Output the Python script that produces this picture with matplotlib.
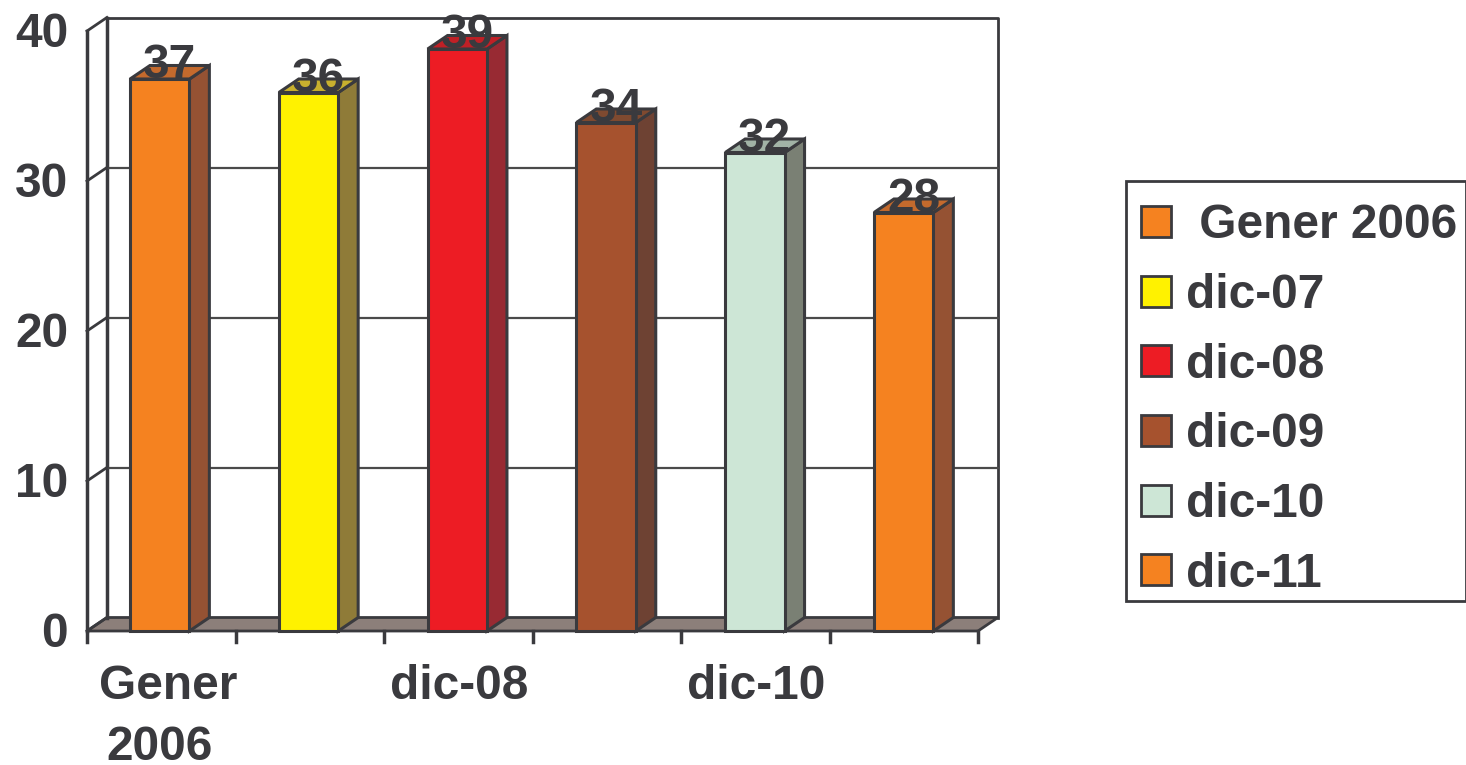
import matplotlib
matplotlib.use("Agg")
import matplotlib.pyplot as plt
from matplotlib.patches import Patch, Polygon, Rectangle

categories = ["Gener 2006", "dic-07", "dic-08", "dic-09", "dic-10", "dic-11"]
values = [36.8, 35.9, 38.8, 33.9, 31.9, 27.9]
value_labels = ["37", "36", "39", "34", "32", "28"]
yticks = [0, 10, 20, 30, 40]

front = ["#f58220", "#fff200", "#ed1c24", "#a6522e", "#cde6d6", "#f58220"]
side = ["#955233", "#8f7b38", "#982a33", "#6e4233", "#7a8074", "#955233"]
top = ["#c46a2d", "#c8b02e", "#c02026", "#7f4a30", "#a2b3a6", "#c46a2d"]

dark = "#3a3a3e"
plt.rcParams["font.family"] = ["Liberation Sans", "DejaVu Sans"]
plt.rcParams["font.weight"] = "bold"
plt.rcParams["font.size"] = 34.5

W, H = 1466, 765
fig = plt.figure(figsize=(W / 100, H / 100), dpi=100)
ax = fig.add_axes([87 / W, 1 - 631 / H, 891 / W, 600 / H])
ax.set_xlim(0, 6)
ax.set_ylim(0, 40)
ax.axis("off")

# depth of the fake 3d, in data units (about 20px right, 14px up)
dx = 0.134
dy = 0.9
wall_top = 40

# floor, walls, gridlines
ax.add_patch(Polygon([(0, 0), (6, 0), (6 + dx, dy), (dx, dy)], fc="#8c7f7a", ec=dark, lw=2, zorder=1, clip_on=False))
ax.plot([dx, 6 + dx, 6 + dx], [wall_top + dy, wall_top + dy, dy], color=dark, lw=2, clip_on=False, zorder=1)
ax.plot([dx, dx], [dy, wall_top + dy], color=dark, lw=2.5, clip_on=False, zorder=1)
ax.plot([0, 0], [0, wall_top], color=dark, lw=2.5, clip_on=False, zorder=1)
for t in yticks:
    if t > 0 and t < 40:
        ax.plot([dx, 6 + dx], [t + dy, t + dy], color="#4a4a4a", lw=1.6, clip_on=False, zorder=1)
    ax.plot([0, dx], [t, t + dy], color=dark, lw=2, clip_on=False, zorder=1)
    ax.text(-0.127, t - 0.22, str(t), ha="right", va="center", color=dark)

# x ticks below the floor
for i in range(7):
    ax.plot([i, i], [0, -0.7], color=dark, lw=2.5, clip_on=False, zorder=1)

# bars
width = 0.4
for i, v in enumerate(values):
    x0 = i * 1.002 + 0.49 - width / 2
    x1 = x0 + width
    ax.bar(x0, v, width=width, align="edge", color=front[i], edgecolor=dark, linewidth=2.2, zorder=3, clip_on=False)
    ax.add_patch(Polygon([(x1, 0), (x1 + dx, dy), (x1 + dx, v + dy), (x1, v)], fc=side[i], ec=dark, lw=2.2, zorder=2, clip_on=False))
    ax.add_patch(Polygon([(x0, v), (x1, v), (x1 + dx, v + dy), (x0 + dx, v + dy)], fc=top[i], ec=dark, lw=2.2, zorder=2, clip_on=False))
    ax.text((x0 + x1 + dx) / 2, v + 0.87, value_labels[i], ha="center", va="center", color=dark, zorder=5, clip_on=False)

# only every other category gets a label
ax.text(0.545, -3.7, "Gener", ha="center", va="center", color=dark)
ax.text(0.49, -7.75, "2006", ha="center", va="center", color=dark)
ax.text(2.507, -3.7, categories[2], ha="center", va="center", color=dark)
ax.text(4.507, -3.7, categories[4], ha="center", va="center", color=dark)

# legend frame is separate so the rows can sit off centre like the original
fig.add_artist(Rectangle((1126 / W, 1 - 601 / H), 340 / W, 420 / H, transform=fig.transFigure,
                         fc="white", ec=dark, lw=2))
handles = [Patch(facecolor=front[i], edgecolor=dark, linewidth=2) for i in range(6)]
labels = [" " + categories[0]] + categories[1:]
leg = fig.legend(handles, labels, loc="upper left", bbox_to_anchor=(1126 / W, 1 - 188 / H),
                 bbox_transform=fig.transFigure, borderaxespad=0, frameon=False,
                 handlelength=0.62, handleheight=0.62,
                 handletextpad=0.32, labelspacing=0.515, borderpad=0.32, labelcolor=dark)

fig.savefig("out.png", dpi=100)
